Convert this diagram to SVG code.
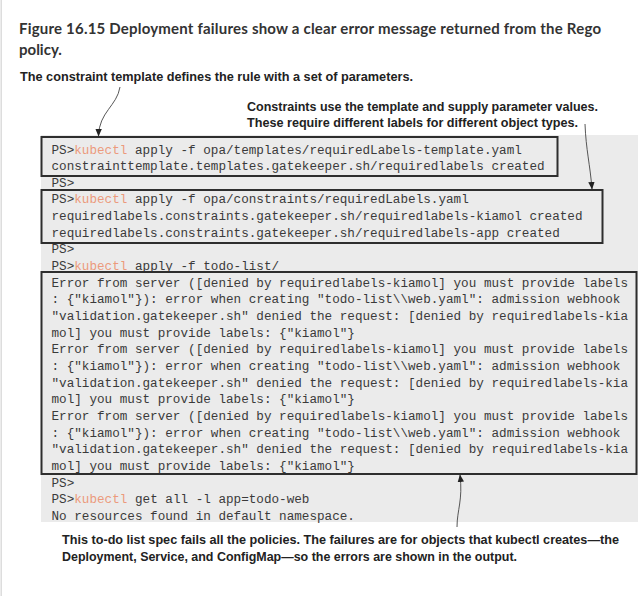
<svg xmlns="http://www.w3.org/2000/svg" width="639" height="596" viewBox="0 0 639 596">
<style>
.title{font-family:Lato,"Open Sans","Liberation Sans",sans-serif;font-weight:700;font-size:15px;fill:#333}
.ann{font-family:"Liberation Sans",Arial,sans-serif;font-weight:700;font-size:13.5px;fill:#222}
.ann2{font-family:"Liberation Sans",Arial,sans-serif;font-weight:700;font-size:13px;fill:#222}
.mono{font-family:"Liberation Mono","DejaVu Sans Mono",monospace;font-size:12.65px;fill:#3a3a3a}
.k{fill:#ec9a7c}
.box{fill:none;stroke:#2e2e2e;stroke-width:2}
.ptr{fill:none;stroke:#444;stroke-width:0.9}
</style>
<defs>
<marker id="ah" markerUnits="userSpaceOnUse" markerWidth="8" markerHeight="8" viewBox="0 0 8 8" refX="7" refY="4" orient="auto">
<path d="M0,0.8 L7.5,4 L0,7.2 Z" fill="#222"/>
</marker>
</defs>
<rect width="639" height="596" fill="#fff"/>
<line x1="1.2" y1="0" x2="1.2" y2="596" stroke="#dcdcdc" stroke-width="1.5"/>
<g id="caption">
<text class="title" x="19" y="34" textLength="582">Figure 16.15 Deployment failures show a clear error message returned from the Rego</text>
<text class="title" x="19" y="55">policy.</text>
</g>
<g id="terminal">
<rect x="41" y="135" width="597" height="387" fill="#ebebeb"/>
<g class="mono">
<text x="51.5" y="153.5">PS&gt;<tspan class="k">kubectl</tspan> apply -f opa/templates/requiredLabels-template.yaml</text>
<text x="51.5" y="170.15">constrainttemplate.templates.gatekeeper.sh/requiredlabels created</text>
<text x="51.5" y="186.8">PS&gt;</text>
<text x="51.5" y="203.45">PS&gt;<tspan class="k">kubectl</tspan> apply -f opa/constraints/requiredLabels.yaml</text>
<text x="51.5" y="220.1">requiredlabels.constraints.gatekeeper.sh/requiredlabels-kiamol created</text>
<text x="51.5" y="236.75">requiredlabels.constraints.gatekeeper.sh/requiredlabels-app created</text>
<text x="51.5" y="253.4">PS&gt;</text>
<text x="51.5" y="270.05">PS&gt;<tspan class="k">kubectl</tspan> apply -f todo-list/</text>
<text x="51.5" y="286.7">Error from server ([denied by requiredlabels-kiamol] you must provide labels</text>
<text x="51.5" y="303.35">: {"kiamol"}): error when creating "todo-list\\web.yaml": admission webhook</text>
<text x="51.5" y="320">"validation.gatekeeper.sh" denied the request: [denied by requiredlabels-kia</text>
<text x="51.5" y="336.65">mol] you must provide labels: {"kiamol"}</text>
<text x="51.5" y="353.3">Error from server ([denied by requiredlabels-kiamol] you must provide labels</text>
<text x="51.5" y="369.95">: {"kiamol"}): error when creating "todo-list\\web.yaml": admission webhook</text>
<text x="51.5" y="386.6">"validation.gatekeeper.sh" denied the request: [denied by requiredlabels-kia</text>
<text x="51.5" y="403.25">mol] you must provide labels: {"kiamol"}</text>
<text x="51.5" y="419.9">Error from server ([denied by requiredlabels-kiamol] you must provide labels</text>
<text x="51.5" y="436.55">: {"kiamol"}): error when creating "todo-list\\web.yaml": admission webhook</text>
<text x="51.5" y="453.2">"validation.gatekeeper.sh" denied the request: [denied by requiredlabels-kia</text>
<text x="51.5" y="469.85">mol] you must provide labels: {"kiamol"}</text>
<text x="51.5" y="486.5">PS&gt;</text>
<text x="51.5" y="503.15">PS&gt;<tspan class="k">kubectl</tspan> get all -l app=todo-web</text>
<text x="51.5" y="519.8">No resources found in default namespace.</text>
</g>
</g>
<g id="box-template">
<rect class="box" x="41.5" y="137" width="516" height="39"/>
</g>
<g id="box-constraints">
<rect class="box" x="41.5" y="190" width="561" height="53"/>
</g>
<g id="box-errors">
<rect class="box" x="41.5" y="272" width="595" height="202"/>
</g>
<g id="note-template">
<text class="ann" x="20" y="81" textLength="393" lengthAdjust="spacingAndGlyphs">The constraint template defines the rule with a set of parameters.</text>
</g>
<g id="note-constraints">
<text class="ann" x="247" y="111" textLength="351" lengthAdjust="spacingAndGlyphs">Constraints use the template and supply parameter values.</text>
<text class="ann" x="247" y="127" textLength="331" lengthAdjust="spacingAndGlyphs">These require different labels for different object types.</text>
</g>
<g id="note-failures">
<text class="ann2" x="62" y="544" textLength="557" lengthAdjust="spacingAndGlyphs">This to-do list spec fails all the policies. The failures are for objects that kubectl creates—the</text>
<text class="ann2" x="62" y="561" textLength="455" lengthAdjust="spacingAndGlyphs">Deployment, Service, and ConfigMap—so the errors are shown in the output.</text>
</g>
<g id="connectors">
<path class="ptr" d="M120,87 C117,106 99,112 98.5,136" marker-end="url(#ah)"/>
<path class="ptr" d="M585,124 C586,150 590,164 592,189" marker-end="url(#ah)"/>
<path class="ptr" d="M457,527 C457,510 463,500 460,475" marker-end="url(#ah)"/>
</g>
</svg>
